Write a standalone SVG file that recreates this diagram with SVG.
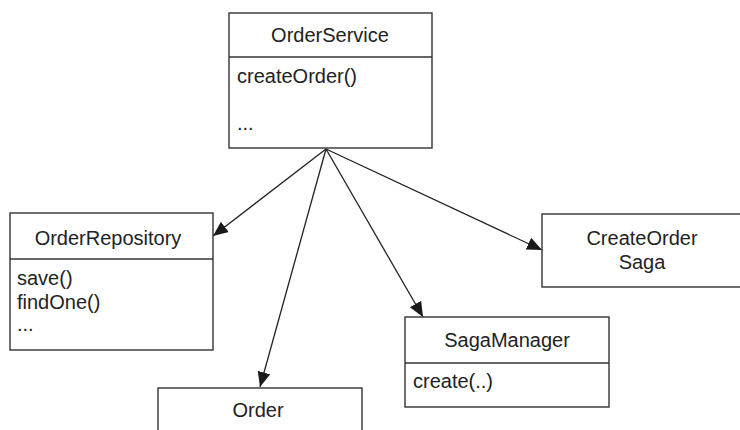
<svg xmlns="http://www.w3.org/2000/svg" width="740" height="430" viewBox="0 0 740 430">
<defs>
<marker id="arr" markerUnits="userSpaceOnUse" markerWidth="16" markerHeight="14" refX="15" refY="6.5" orient="auto">
<path d="M0,0 L15,6.5 L0,13 Z" fill="#1a1a1a"/>
</marker>
<style>
.box{fill:#fff;stroke:#333;stroke-width:1.4}
.t{font-family:"Liberation Sans",Arial,sans-serif;font-size:20px;fill:#222}
.c{text-anchor:middle}
.e{stroke:#222;stroke-width:1.3;fill:none;marker-end:url(#arr)}
</style>
</defs>
<rect width="740" height="430" fill="#fff"/>
<g id="connectors">
<line class="e" x1="326" y1="149" x2="213" y2="236"/>
<line class="e" x1="326" y1="149" x2="260" y2="387"/>
<line class="e" x1="326" y1="149" x2="423" y2="317"/>
<line class="e" x1="326" y1="149" x2="542" y2="250"/>
</g>
<g id="OrderService">
<rect class="box" x="229" y="13" width="203" height="135"/>
<line class="box" x1="229" y1="57" x2="432" y2="57"/>
<text class="t c" x="330" y="42">OrderService</text>
<text class="t" x="237" y="83">createOrder()</text>
<text class="t" x="237" y="130">...</text>
</g>
<g id="OrderRepository">
<rect class="box" x="10" y="213" width="203" height="137"/>
<line class="box" x1="10" y1="259" x2="213" y2="259"/>
<text class="t c" x="108" y="245">OrderRepository</text>
<text class="t" x="17" y="285">save()</text>
<text class="t" x="17" y="309">findOne()</text>
<text class="t" x="17" y="331">...</text>
</g>
<g id="Order">
<rect class="box" x="158" y="388" width="204" height="60"/>
<text class="t c" x="258" y="417">Order</text>
</g>
<g id="SagaManager">
<rect class="box" x="405" y="317" width="204" height="90"/>
<line class="box" x1="405" y1="363" x2="609" y2="363"/>
<text class="t c" x="507" y="347">SagaManager</text>
<text class="t" x="413" y="388">create(..)</text>
</g>
<g id="CreateOrderSaga">
<rect class="box" x="542" y="214" width="210" height="73"/>
<text class="t c" x="642" y="245">CreateOrder</text>
<text class="t c" x="642" y="269">Saga</text>
</g>
</svg>
